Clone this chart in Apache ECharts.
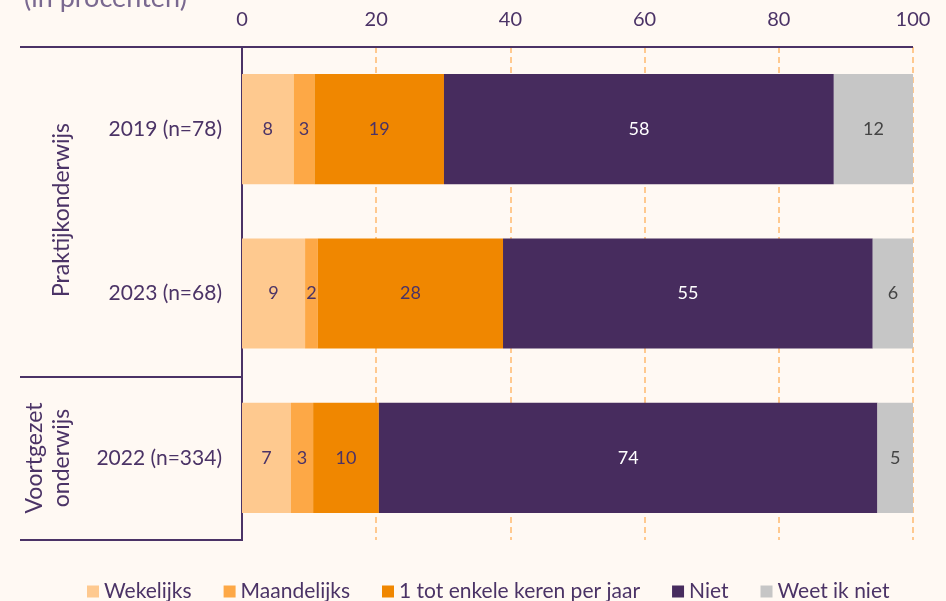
<!DOCTYPE html>
<html>
<head>
<meta charset="utf-8">
<script src="https://cdn.jsdelivr.net/npm/echarts@6/dist/echarts.min.js"></script>
<style>
html,body{margin:0;padding:0;background:#FFF9F3;}
#chart{width:946px;height:601px;}
</style>
</head>
<body>
<div id="chart"></div>
<script>
const categories = ['2019 (n=78)', '2023 (n=68)', '2022 (n=334)'];
const seriesNames = ['Wekelijks', 'Maandelijks', '1 tot enkele keren per jaar', 'Niet', 'Weet ik niet'];
const wekelijks = [7.7, 9.4, 7.3];
const maandelijks = [3.1, 1.9, 3.3];
const keren = [19.3, 27.6, 9.8];
const niet = [58.1, 55.1, 74.3];
const weetIkNiet = [11.8, 6.0, 5.3];
const xTicks = [0, 20, 40, 60, 80, 100];

const values = [wekelijks, maandelijks, keren, niet, weetIkNiet];
const colors = ['#FEC98F', '#FDA846', '#F08700', '#472C5E', '#C6C6C6'];
const labelColors = ['#4B3366', '#4B3366', '#4B3366', '#FFFFFF', '#444444'];
const FONT = 'Lato, "Noto Sans", sans-serif';
const PURPLE = '#4B3366';

const chart = echarts.init(document.getElementById('chart'), null, {renderer: 'canvas'});
chart.setOption({
  backgroundColor: '#FFF9F3',
  textStyle: {fontFamily: FONT},
  animation: false,
  grid: {left: 242, right: 33, top: 47, bottom: 61, containLabel: false},
  legend: {
    data: seriesNames,
    left: 82, top: 576,
    icon: 'rect', itemWidth: 12, itemHeight: 12, itemGap: 32,
    textStyle: {fontSize: 21, color: PURPLE, fontFamily: FONT}
  },
  xAxis: {
    type: 'value', position: 'top', min: xTicks[0], max: xTicks[xTicks.length - 1], interval: 20,
    axisLine: {show: false}, axisTick: {show: false},
    axisLabel: {fontSize: 20, color: PURPLE, margin: 17, fontFamily: FONT},
    splitLine: {show: true, lineStyle: {color: '#FFC98F', type: [6, 4], width: 2}}
  },
  yAxis: {
    type: 'category', data: categories, inverse: true,
    axisLine: {show: true, lineStyle: {color: PURPLE, width: 2}},
    axisTick: {show: false},
    axisLabel: {fontSize: 21, color: PURPLE, margin: 20, fontFamily: FONT}
  },
  series: seriesNames.map((name, i) => ({
    name: name, type: 'bar', stack: 'total', data: values[i],
    barWidth: '67%',
    itemStyle: {color: colors[i]},
    label: {
      show: true, position: 'inside', fontSize: 18, color: labelColors[i], fontFamily: FONT,
      formatter: p => Math.round(p.value)
    }
  })),
  graphic: [
    {type: 'line', z: 10, shape: {x1: 20, y1: 47, x2: 913, y2: 47}, style: {stroke: PURPLE, lineWidth: 2}},
    {type: 'line', z: 10, shape: {x1: 20, y1: 377, x2: 242, y2: 377}, style: {stroke: PURPLE, lineWidth: 2}},
    {type: 'line', z: 10, shape: {x1: 20, y1: 540, x2: 243, y2: 540}, style: {stroke: PURPLE, lineWidth: 2}},
    {type: 'text', x: 24, y: -15, style: {text: '(in procenten)', font: '27px ' + FONT, fill: '#7A6990'}},
    {type: 'text', x: 62, y: 210, rotation: Math.PI / 2,
      style: {text: 'Praktijkonderwijs', font: '23px ' + FONT, fill: PURPLE, align: 'center', verticalAlign: 'middle'}},
    {type: 'text', x: 48, y: 458, rotation: Math.PI / 2,
      style: {text: 'Voortgezet\nonderwijs', font: '23px ' + FONT, fill: PURPLE, align: 'center', verticalAlign: 'middle', lineHeight: 27}}
  ]
});
</script>
</body>
</html>
